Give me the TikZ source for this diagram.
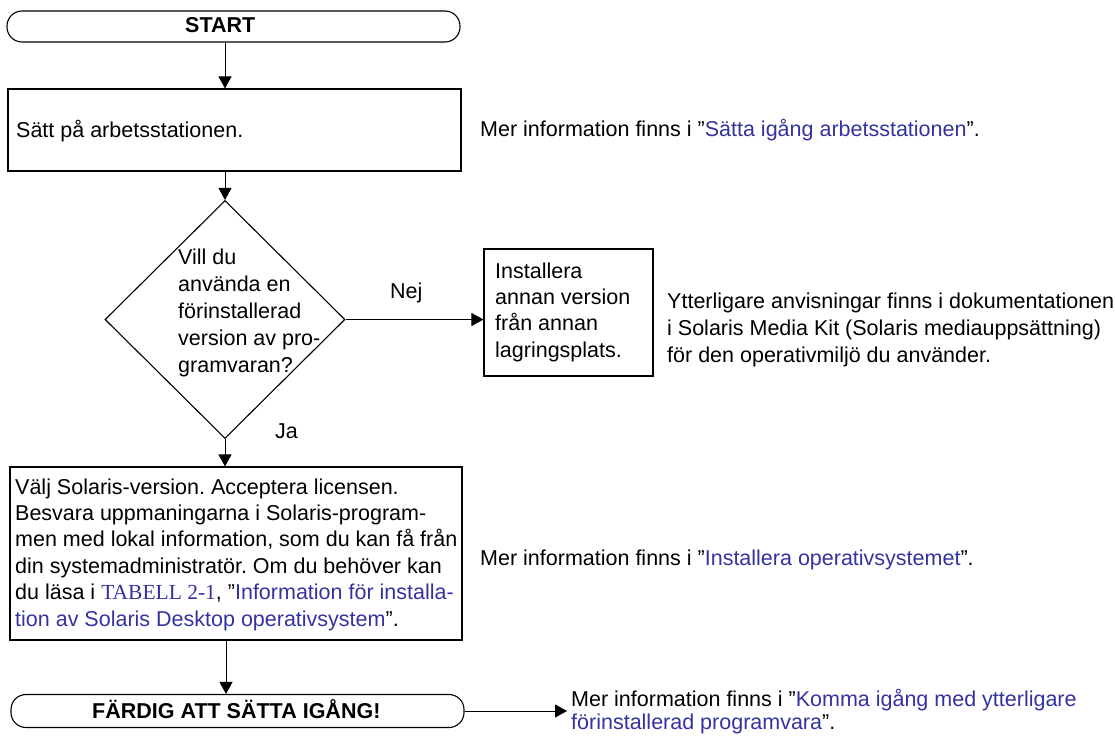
\documentclass[tikz,border=0pt]{standalone}
\usepackage{fontspec}
\setmainfont{Liberation Sans}
\newfontfamily\serifa{Liberation Serif}
\usetikzlibrary{arrows.meta,shapes.geometric}
\definecolor{linkblue}{RGB}{51,51,160}
\frenchspacing
\begin{document}
\begin{tikzpicture}[x=1pt,y=-1pt,
  every node/.style={font=\fontsize{21.5}{26.5}\selectfont},
  txt/.style={anchor=base west, inner sep=0pt, align=left},
  boxa/.style={draw, line width=1.1pt, inner sep=0pt},
  term/.style={boxa, rounded corners=15pt},
  conn/.style={line width=0.9pt, -{Triangle[length=12pt,width=13pt]}}]
\useasboundingbox (0,0) rectangle (1115,738);
% shapes
\node[term, minimum width=453pt, minimum height=31pt] (start) at (233.5,26.5) {};
\node[boxa, minimum width=453pt, minimum height=82pt] (box1) at (234.5,130) {};
\node[boxa, diamond, minimum width=240pt, minimum height=238pt] (dec) at (225,319.5) {};
\node[boxa, minimum width=169pt, minimum height=127pt] (alt) at (568.5,312.5) {};
\node[boxa, minimum width=452pt, minimum height=173pt] (box2) at (236,553.5) {};
\node[term, minimum width=453pt, minimum height=33pt] (finish) at (237.5,711) {};
\coordinate (colA) at (225,0);
\coordinate (colB) at (226,0);
\coordinate (tipF) at (567,711);
% texts (multi-line nodes: base = last line's baseline)
\node[txt] (tstart) at (185,33) {\bfseries START};
\node[txt] (t1) at (16,138) {Sätt på arbetsstationen.};
\node[txt, font=\fontsize{21.5}{27}\selectfont] (tdec) at (178,372) {Vill du\\använda en\\förinstallerad\\version av pro-\\gramvaran?};
\node[txt, font=\fontsize{21.5}{26.3}\selectfont] (talt) at (495,357) {Installera\\annan version\\från annan\\lagringsplats.};
\node[txt, font=\fontsize{21.5}{26.4}\selectfont] (t2) at (15,626) {Välj Solaris-version. Acceptera licensen.\\Besvara uppmaningarna i Solaris-program-\\men med lokal information, som du kan få från\\din systemadministratör. Om du behöver kan\\du läsa i {\serifa\color{linkblue}TABELL 2-1}, ”{\color{linkblue}Information för installa-}\\{\color{linkblue}tion av Solaris Desktop operativsystem}”.};
\node[txt] (tfinish) at (92,718) {\bfseries FÄRDIG ATT SÄTTA IGÅNG!};
\node[txt] (nej) at (390,298) {Nej};
\node[txt] (ja) at (275,438) {Ja};
\node[txt] (r1) at (480,137) {Mer information finns i ”{\color{linkblue}Sätta igång arbetsstationen}”.};
\node[txt, font=\fontsize{21.5}{27}\selectfont] (r2) at (667,362) {Ytterligare anvisningar finns i dokumentationen\\i Solaris Media Kit (Solaris mediauppsättning)\\för den operativmiljö du använder.};
\node[txt] (r3) at (480,565) {Mer information finns i ”{\color{linkblue}Installera operativsystemet}”.};
\node[txt, font=\fontsize{21.5}{23}\selectfont] (r4) at (571,729) {Mer information finns i ”{\color{linkblue}Komma igång med ytterligare}\\{\color{linkblue}förinstallerad programvara}”.};
% connectors
\draw[conn] (start.south -| colA) -- (box1.north -| colA);
\draw[conn] (box1.south -| colA) -- (dec.north);
\draw[conn] (dec.south) -- (box2.north -| dec.south);
\draw[conn] (dec.east) -- (alt.west |- dec.east);
\draw[conn] (box2.south -| colB) -- (finish.north -| colB);
\draw[conn] (finish.east) -- (tipF);
\end{tikzpicture}
\end{document}
